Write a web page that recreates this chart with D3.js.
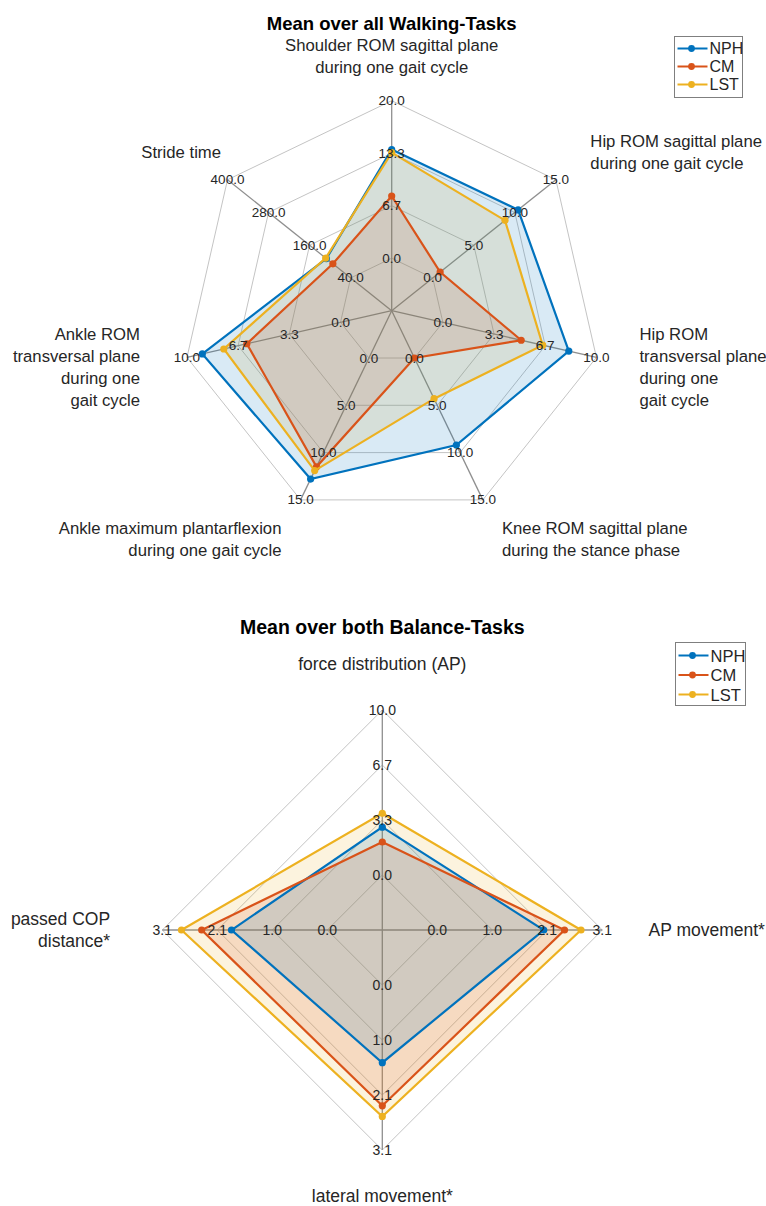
<!DOCTYPE html>
<html>
<head>
<meta charset="utf-8">
<script src="https://cdn.jsdelivr.net/npm/d3@7/dist/d3.min.js"></script>
<style>
  html, body { margin: 0; padding: 0; background: #ffffff; }
  svg { display: block; font-family: "Liberation Sans", Arial, Helvetica, sans-serif; }
</style>
</head>
<body>
<svg id="chart" width="766" height="1206"></svg>
<script>
// ---- Series ----
const seriesNames  = ["NPH", "CM", "LST"];
const seriesColors = ["#0072BD", "#D95319", "#EDB120"];

// ---- Walking tasks (7 axes, clockwise from top) ----
const walkAxes = [
  ["Shoulder ROM sagittal plane", "during one gait cycle"],
  ["Hip ROM sagittal plane", "during one gait cycle"],
  ["Hip ROM", "transversal plane", "during one", "gait cycle"],
  ["Knee ROM sagittal plane", "during the stance phase"],
  ["Ankle maximum plantarflexion", "during one gait cycle"],
  ["Ankle ROM", "transversal plane", "during one", "gait cycle"],
  ["Stride time"]
];
const walkMin = [0, 0, 0, 0, 0, 0, 40];
const walkMax = [20, 15, 10, 15, 15, 10, 400];
const walkTicks = [
  ["0.0", "6.7", "13.3", "20.0"],
  ["0.0", "5.0", "10.0", "15.0"],
  ["0.0", "3.3", "6.7", "10.0"],
  ["0.0", "5.0", "10.0", "15.0"],
  ["0.0", "5.0", "10.0", "15.0"],
  ["0.0", "3.3", "6.7", "10.0"],
  ["40.0", "160.0", "280.0", "400.0"]
];
const walkNPH = [13.8, 10.4, 8.2, 9.2, 12.8, 9.0, 111];
const walkCM  = [7.9, 0.9, 5.1, 0.0, 11.5, 6.1, 92];
const walkLST = [13.4, 8.8, 6.5, 4.3, 11.9, 7.6, 113];

// ---- Balance tasks (4 axes, clockwise from top) ----
const balAxes = [
  ["force distribution (AP)"],
  ["AP movement*"],
  ["lateral movement*"],
  ["passed COP", "distance*"]
];
const balMin = [0, 0, 0, 0];
const balMax = [10, 3.1, 3.1, 3.1];
const balTicks = [
  ["0.0", "3.3", "6.7", "10.0"],
  ["0.0", "1.0", "2.1", "3.1"],
  ["0.0", "1.0", "2.1", "3.1"],
  ["0.0", "1.0", "2.1", "3.1"]
];
const balNPH = [2.9, 2.0, 1.46, 1.8];
const balCM  = [2.0, 2.39, 2.27, 2.36];
const balLST = [3.74, 2.70, 2.47, 2.74];

const svg = d3.select("#chart");
svg.append("rect").attr("width", 766).attr("height", 1206).attr("fill", "#ffffff");

const textColor = "#262626";

function drawRadar(cfg) {
  const { cx, cy, R, axes, mins, maxs, ticks, series, title, titleY, titleSize,
          labelSize, tickSize, lineH, labelNudge, legend } = cfg;
  const n = axes.length;
  const g = svg.append("g");
  const angle = i => (-90 + i * 360 / n) * Math.PI / 180;
  const pt = (i, r) => [cx + r * Math.cos(angle(i)), cy + r * Math.sin(angle(i))];
  const scales = axes.map((_, i) =>
    d3.scaleLinear().domain([mins[i], maxs[i]]).range([R / 4, R]));
  const closed = d3.line().curve(d3.curveLinearClosed);

  // web rings
  [1, 2, 3, 4].forEach(k => {
    g.append("path")
      .attr("d", closed(d3.range(n).map(i => pt(i, R * k / 4))))
      .attr("fill", "none").attr("stroke", "#c4c4c4").attr("stroke-width", 1);
  });
  // spokes
  d3.range(n).forEach(i => {
    const p = pt(i, R);
    g.append("line").attr("x1", cx).attr("y1", cy).attr("x2", p[0]).attr("y2", p[1])
      .attr("stroke", "#8f8f8f").attr("stroke-width", 1.3);
  });

  const polys = series.map(vals => vals.map((v, i) => pt(i, scales[i](v))));

  // translucent fills, last series underneath
  polys.slice().reverse().forEach((pts, r) => {
    const s = polys.length - 1 - r;
    g.append("path").attr("d", closed(pts))
      .attr("fill", seriesColors[s]).attr("fill-opacity", 0.15).attr("stroke", "none");
  });

  // outlines and markers
  polys.forEach((pts, s) => {
    g.append("path").attr("d", closed(pts))
      .attr("fill", "none")
      .attr("stroke", seriesColors[s]).attr("stroke-width", 2.2)
      .attr("stroke-linejoin", "miter");
    g.selectAll(null).data(pts).enter().append("circle")
      .attr("cx", d => d[0]).attr("cy", d => d[1]).attr("r", 3.6)
      .attr("fill", seriesColors[s]);
  });

  // tick labels on each spoke
  d3.range(n).forEach(i => {
    ticks[i].forEach((t, k) => {
      const p = pt(i, R * (k + 1) / 4);
      g.append("text").attr("x", p[0]).attr("y", p[1])
        .attr("text-anchor", "middle").attr("dominant-baseline", "central")
        .attr("font-size", tickSize).attr("fill", textColor).text(t);
    });
  });

  // axis labels
  d3.range(n).forEach(i => {
    const p = pt(i, R * 1.21);
    const c = Math.cos(angle(i));
    const anchor = Math.abs(c) < 0.1 ? "middle" : (c > 0 ? "start" : "end");
    const lines = axes[i];
    const y0 = p[1] - (lines.length - 1) * lineH / 2;
    const t = g.append("text").attr("text-anchor", anchor)
      .attr("font-size", labelSize).attr("fill", textColor);
    lines.forEach((ln, j) => {
      t.append("tspan").attr("x", p[0] + labelNudge[i]).attr("y", y0 + j * lineH)
        .attr("dominant-baseline", "central").text(ln);
    });
  });

  // title
  g.append("text").attr("x", cx).attr("y", titleY)
    .attr("text-anchor", "middle").attr("dominant-baseline", "central")
    .attr("font-weight", "bold").attr("font-size", titleSize).attr("fill", "#000")
    .text(title);

  // legend
  const lg = g.append("g").attr("transform", `translate(${legend.x},${legend.y})`);
  lg.append("rect").attr("width", legend.w).attr("height", legend.h)
    .attr("fill", "#fff").attr("stroke", "#7f7f7f").attr("stroke-width", 1);
  seriesNames.forEach((name, s) => {
    const y = legend.pad + s * legend.step;
    lg.append("line").attr("x1", 3).attr("x2", 33).attr("y1", y).attr("y2", y)
      .attr("stroke", seriesColors[s]).attr("stroke-width", 2);
    lg.append("circle").attr("cx", 17).attr("cy", y).attr("r", 3.4).attr("fill", seriesColors[s]);
    lg.append("text").attr("x", 35).attr("y", y).attr("dominant-baseline", "central")
      .attr("font-size", legend.font).attr("fill", textColor).text(name);
  });
}

drawRadar({
  cx: 391.7, cy: 310.7, R: 210,
  axes: walkAxes, mins: walkMin, maxs: walkMax, ticks: walkTicks,
  series: [walkNPH, walkCM, walkLST],
  title: "Mean over all Walking-Tasks", titleY: 23, titleSize: 18.5,
  labelSize: 16.7, tickSize: 13.5, lineH: 22,
  labelNudge: [0, 0, 0, 0, 0, -4, 28],
  legend: { x: 674.5, y: 36.5, w: 68, h: 61, pad: 12, step: 18, font: 16 }
});

drawRadar({
  cx: 382.3, cy: 930, R: 220,
  axes: balAxes, mins: balMin, maxs: balMax, ticks: balTicks,
  series: [balNPH, balCM, balLST],
  title: "Mean over both Balance-Tasks", titleY: 627, titleSize: 19.5,
  labelSize: 17.5, tickSize: 14, lineH: 22,
  labelNudge: [0, 0, 0, -6],
  legend: { x: 675.5, y: 642.5, w: 70, h: 63, pad: 13, step: 19.5, font: 16.5 }
});
</script>
</body>
</html>
